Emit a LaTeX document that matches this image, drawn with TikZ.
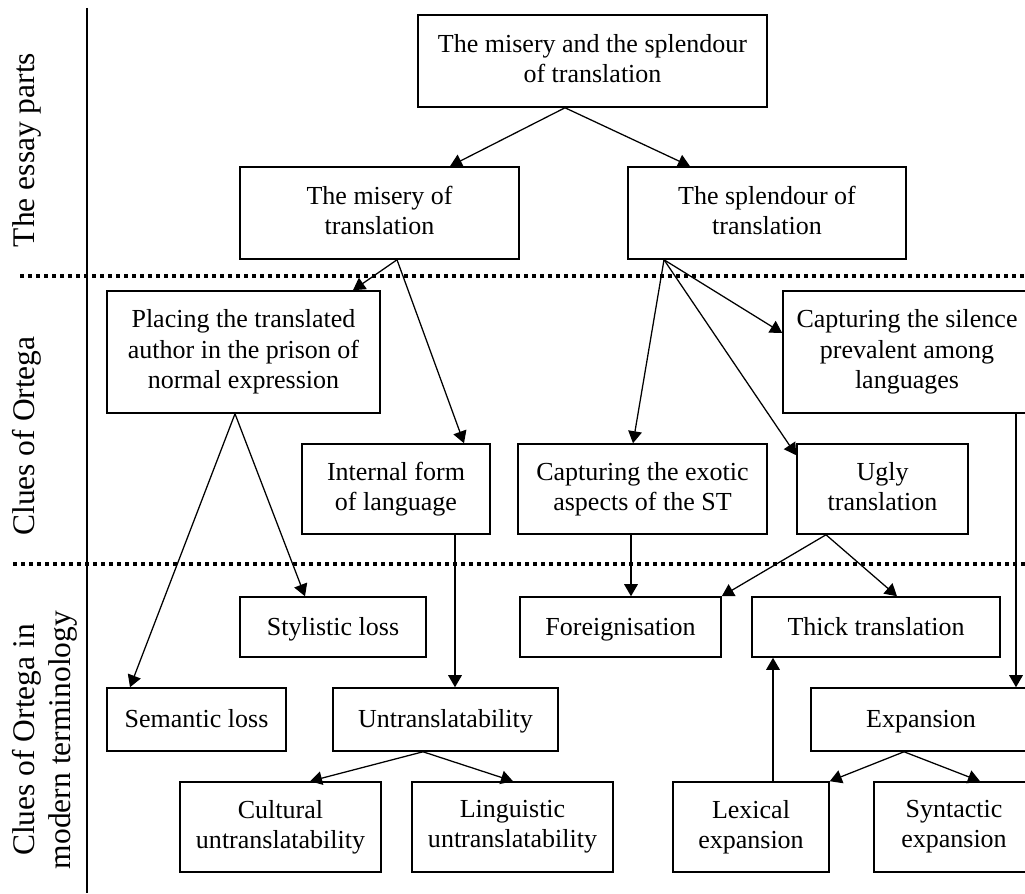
\documentclass[tikz,border=0pt]{standalone}
\usepackage{fontspec}
\setmainfont{Liberation Serif}
\usetikzlibrary{arrows.meta,calc}

\newcommand{\topstrut}{\rule{0pt}{16pt}}
\newcommand{\botstrut}{\rule[-4pt]{0pt}{4pt}}

\tikzstyle{box}=[draw,line width=1.1pt,align=center,inner sep=0pt,font=\fontsize{18.5}{21.5}\selectfont,execute at begin node=\topstrut,execute at end node=\botstrut]
\tikzstyle{link}=[draw,line width=0.9pt,-{Triangle[length=3mm,width=3.4mm]}]
\tikzstyle{part}=[rotate=90,align=center,font=\fontsize{22.4}{25.5}\selectfont]
\tikzstyle{sep}=[line width=2.6pt,dash pattern=on 1.1mm off 0.9mm]
\tikzset{boxsize/.style 2 args={minimum width=#1*0.25mm,minimum height=#2*0.25mm}}

\begin{document}
\begin{tikzpicture}[x=0.25mm,y=-0.25mm]

\useasboundingbox (0,0) rectangle (1025,893);

% level labels and separators
\draw[line width=1.8pt] (87,8) -- (87,893);
\draw[sep] (20,276) -- (1025,276);
\draw[sep] (13,564) -- (1025,564);

\node[part] (essay) at (27,150) {The essay parts};
\node[part] (clues) at (27,436) {Clues of Ortega};
\node[part] (modern) at (45,740) {Clues of Ortega in\\modern terminology};

% the essay parts
\node[box,boxsize={349}{92}] (whole) at (592.5,61) {The misery and the splendour\\of translation};
\node[box,boxsize={279}{92}] (misery) at (379.5,213) {The misery of\\translation};
\node[box,boxsize={278}{92}] (splendour) at (767,213) {The splendour of\\translation};

% clues of Ortega
\node[box,boxsize={273}{122}] (prison) at (243.5,352) {Placing the translated\\author in the prison of\\normal expression};
\node[box,boxsize={188}{90}] (inner) at (396,489) {Internal form\\of language};
\node[box,boxsize={249}{90}] (exotic) at (642.5,489) {Capturing the exotic\\aspects of the ST};
\node[box,boxsize={171}{90}] (ugly) at (882.5,489) {Ugly\\translation};
\node[box,boxsize={248}{122}] (silence) at (907,352) {Capturing the silence\\prevalent among\\languages};

% modern terminology
\node[box,boxsize={186}{60}] (stylistic) at (333,627) {Stylistic loss};
\node[box,boxsize={179}{63}] (semantic) at (196.5,719.5) {Semantic loss};
\node[box,boxsize={225}{63}] (untrans) at (445.5,719.5) {Untranslatability};
\node[box,boxsize={201}{90}] (cultural) at (280.5,827) {Cultural\\untranslatability};
\node[box,boxsize={201}{90}] (linguistic) at (512.5,827) {Linguistic\\untranslatability};
\node[box,boxsize={201}{60}] (foreign) at (620.5,627) {Foreignisation};
\node[box,boxsize={248}{60}] (thick) at (876,627) {Thick translation};
\node[box,boxsize={220}{63}] (expansion) at (921,719.5) {Expansion};
\node[box,boxsize={156}{90}] (lexical) at (751,827) {Lexical\\expansion};
\node[box,boxsize={160}{90}] (syntactic) at (954,827) {Syntactic\\expansion};

\draw[link] ($(whole.south)+(-27.5,0)$) -- ($(misery.north)+(70.5,0)$);
\draw[link] ($(whole.south)+(-27.5,0)$) -- ($(splendour.north)+(-77,0)$);

\draw[link] ($(misery.south)+(17.5,0)$) -- ($(prison.north)+(109.5,0)$);
\draw[link] ($(misery.south)+(17.5,0)$) -- ($(inner.north)+(68,0)$);

\draw[link] ($(splendour.south)+(-103,0)$) -- ($(exotic.north)+(-9.5,0)$);
\draw[link] ($(splendour.south)+(-103,0)$) -- ($(ugly.north west)+(0,12)$);
\draw[link] ($(splendour.south)+(-103,0)$) -- ($(silence.west)+(0,-19)$);

\draw[link] ($(prison.south)+(-8.5,0)$) -- ($(semantic.north)+(-66.5,0)$);
\draw[link] ($(prison.south)+(-8.5,0)$) -- ($(stylistic.north)+(-28,0)$);

\draw[link] ($(inner.south)+(59,0)$) -- ($(untrans.north)+(9.5,0)$);
\draw[link] ($(exotic.south)+(-11.5,0)$) -- ($(foreign.north)+(10.5,0)$);

\draw[link] ($(ugly.south)+(-56.5,0)$) -- (foreign.north east);
\draw[link] ($(ugly.south)+(-56.5,0)$) -- ($(thick.north)+(21,0)$);

\draw[link] ($(silence.south)+(109,0)$) -- ($(expansion.north)+(95,0)$);

\draw[link] ($(untrans.south)+(-22.5,0)$) -- ($(cultural.north)+(29.5,0)$);
\draw[link] ($(untrans.south)+(-22.5,0)$) -- ($(linguistic.north)+(0.5,0)$);

\draw[link] ($(expansion.south)+(-17,0)$) -- (lexical.north east);
\draw[link] ($(expansion.south)+(-17,0)$) -- ($(syntactic.north)+(26,0)$);

\draw[link] ($(lexical.north)+(22,0)$) -- ($(thick.south)+(-103,0)$);

\end{tikzpicture}
\end{document}
